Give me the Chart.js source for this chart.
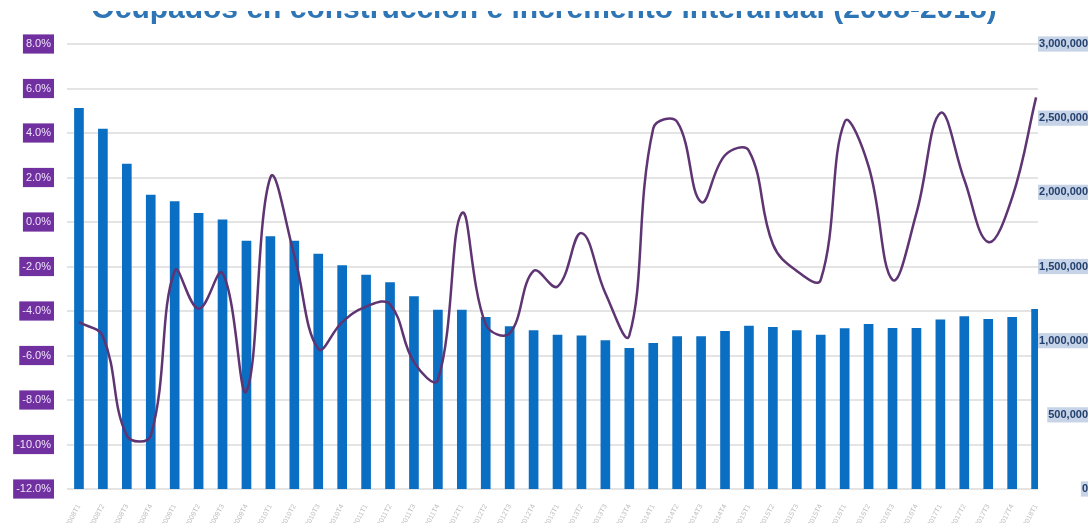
<!DOCTYPE html>
<html lang="es">
<head>
<meta charset="utf-8">
<title>Ocupados en construcción e incremento interanual</title>
<script src="https://cdn.jsdelivr.net/npm/chart.js@4.4.0/dist/chart.umd.min.js"></script>
<style>
  html, body { margin: 0; padding: 0; background: #fff; overflow: hidden; }
  #wrap { position: relative; width: 1088px; height: 523px; }
  /* the top of the title is cut off in the source image */
  #cut { position: absolute; left: 0; top: 0; width: 1088px; height: 11px; background: #fff; }
</style>
</head>
<body>
<div id="wrap"><canvas id="chart"></canvas><div id="cut"></div></div>
<script>
'use strict';

// Trimestres (eje X)
var quarters = [
  '2008T1', '2008T2', '2008T3', '2008T4', '2009T1', '2009T2', '2009T3', '2009T4',
  '2010T1', '2010T2', '2010T3', '2010T4', '2011T1', '2011T2', '2011T3', '2011T4',
  '2012T1', '2012T2', '2012T3', '2012T4', '2013T1', '2013T2', '2013T3', '2013T4',
  '2014T1', '2014T2', '2014T3', '2014T4', '2015T1', '2015T2', '2015T3', '2015T4',
  '2016T1', '2016T2', '2016T3', '2016T4', '2017T1', '2017T2', '2017T3', '2017T4',
  '2018T1'
];

// Ocupados en construcción (barras, eje derecho)
var ocupados = [
  2567000, 2427000, 2191000, 1982000, 1937000, 1859000, 1814000, 1672000,
  1701000, 1672000, 1583000, 1506000, 1443000, 1391000, 1297000, 1207000,
  1207000, 1158000, 1095000, 1068000, 1038000, 1032000, 1000000, 949000,
  982000, 1027000, 1027000, 1063000, 1099000, 1090000, 1068000, 1038000,
  1081000, 1110000, 1083000, 1083000, 1140000, 1162000, 1144000, 1158000,
  1212000
];

// Incremento (%, linea, eje izquierdo)
var incremento = [
  -4.5, -5.15, -9.6, -9.6, -2.2, -3.9, -2.3, -7.6,
  2.0, -1.5, -5.7, -4.5, -3.8, -3.7, -6.3, -7.1,
  0.4, -4.6, -5.0, -2.2, -2.9, -0.5, -3.2, -5.1,
  4.2, 4.5, 0.9, 3.0, 3.2, -1.0, -2.2, -2.6,
  4.5, 2.5, -2.6, 0.4, 4.9, 1.9, -0.9, 1.1,
  5.6
];

var leftTicks = [8, 6, 4, 2, 0, -2, -4, -6, -8, -10, -12];
var rightTicks = [3000000, 2500000, 2000000, 1500000, 1000000, 500000, 0];

var FONT = "'Liberation Sans', Arial, sans-serif";

function toPoints(values) {
  return values.map(function (v, i) { return { x: i, y: v }; });
}

new Chart(document.getElementById('chart'), {
  type: 'bar',
  data: {
    datasets: [
      {
        type: 'line',
        label: 'Incremento interanual',
        data: toPoints(incremento),
        yAxisID: 'y',
        borderColor: '#5e3472',
        borderWidth: 2.5,
        pointRadius: 0,
        tension: 0.4,
        fill: false
      },
      {
        type: 'bar',
        label: 'Ocupados',
        data: toPoints(ocupados),
        yAxisID: 'y1',
        backgroundColor: '#0a6fc2',
        barThickness: 9,
        clip: 0
      }
    ]
  },
  options: {
    responsive: true,
    maintainAspectRatio: false,
    animation: false,
    layout: { padding: 0 },
    plugins: {
      legend: { display: false },
      tooltip: { enabled: false },
      title: {
        display: true,
        text: 'Ocupados en construcción e incremento interanual (2008-2018)',
        color: '#2e75b6',
        font: { family: FONT, size: 30, weight: 'bold' },
        padding: { top: -8, bottom: 16 }
      }
    },
    scales: {
      x: {
        type: 'linear',
        offset: false,
        min: -0.5,
        max: 40.08,
        afterBuildTicks: function (axis) {
          axis.ticks = quarters.map(function (q, i) { return { value: i }; });
        },
        afterFit: function (axis) { axis.height = 34; },
        ticks: {
          autoSkip: false,
          minRotation: 62,
          maxRotation: 62,
          padding: 6,
          color: '#bdbdbd',
          font: { family: FONT, size: 7 },
          callback: function (v) { return quarters[v] || ''; }
        },
        grid: { display: false, offset: false },
        border: { display: false }
      },
      y: {
        position: 'left',
        min: -12,
        max: 8,
        afterBuildTicks: function (axis) {
          axis.ticks = leftTicks.map(function (v) { return { value: v }; });
        },
        afterFit: function (axis) { axis.width = 67; },
        ticks: {
          color: '#efe4fa',
          font: { family: FONT, size: 11 },
          padding: 16,
          showLabelBackdrop: true,
          backdropColor: '#7030a0',
          backdropPadding: { x: 3, y: 3 },
          callback: function (v) { return v.toFixed(1) + '%'; }
        },
        grid: { color: '#e4e4e4', lineWidth: 2, drawTicks: false },
        border: { display: false }
      },
      y1: {
        position: 'right',
        min: 0,
        max: 3000000,
        afterBuildTicks: function (axis) {
          axis.ticks = rightTicks.map(function (v) { return { value: v }; });
        },
        afterFit: function (axis) { axis.width = 50; },
        ticks: {
          crossAlign: 'far',
          color: '#23406e',
          font: { family: FONT, size: 11, weight: 'bold' },
          padding: 0,
          showLabelBackdrop: true,
          backdropColor: '#c7d3e6',
          backdropPadding: { x: 1, y: 1 },
          callback: function (v) { return v.toLocaleString('en-US'); }
        },
        grid: { display: false, drawTicks: false },
        border: { display: false }
      }
    }
  }
});
</script>
</body>
</html>
